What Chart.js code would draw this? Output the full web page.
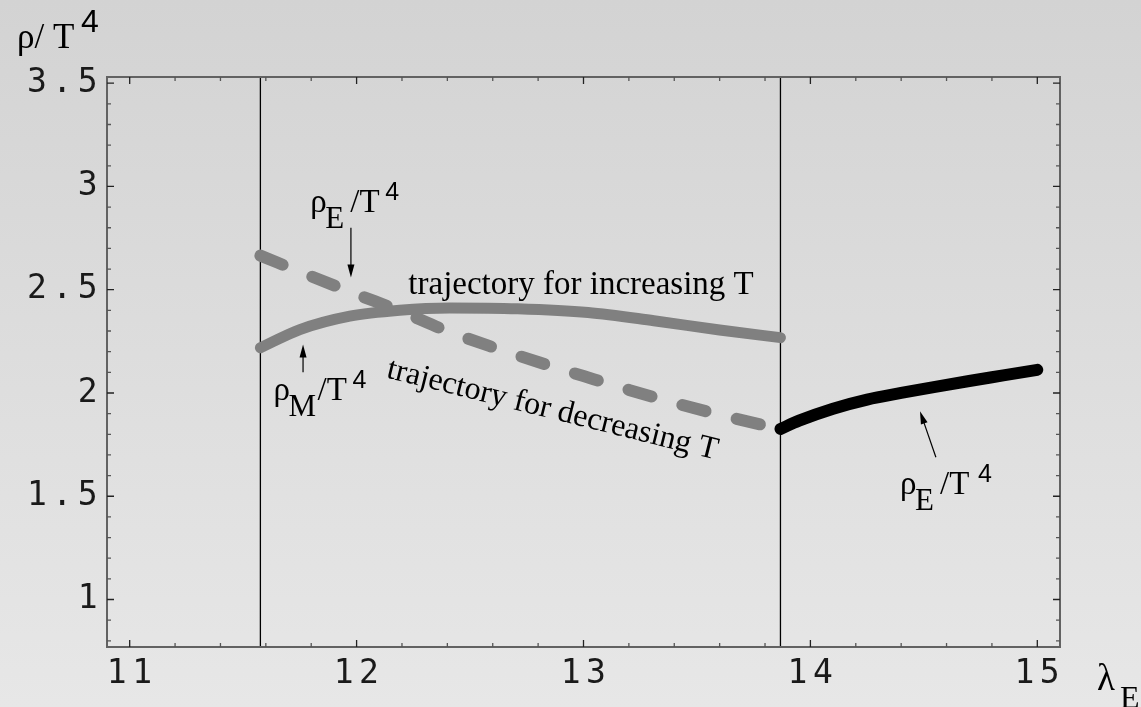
<!DOCTYPE html>
<html lang="en">
<head>
<meta charset="UTF-8" />
<title>rho/T^4 trajectories</title>
<script src="https://cdn.jsdelivr.net/npm/chart.js"></script>
<style>
  html, body { margin: 0; padding: 0; overflow: hidden; background: #dddddd; }
  #chart { display: block; background: linear-gradient(to bottom, #d3d3d3, #e7e7e7); }
</style>
</head>
<body>
<canvas id="chart" width="1141" height="707"></canvas>
<script>
// values: lambda_E on x, rho/T^4 on y
const risingX = [11.576, 11.75, 11.97, 12.19, 12.41, 12.71, 13.02, 13.31, 13.6, 13.868];
const risingY = [2.219, 2.307, 2.372, 2.401, 2.412, 2.408, 2.39, 2.35, 2.305, 2.268];
const fallingX = [11.576, 11.8, 12.0, 12.2, 12.4, 12.6, 12.8, 13.0, 13.2, 13.4, 13.6, 13.868];
const fallingY = [2.665, 2.565, 2.478, 2.393, 2.30, 2.222, 2.15, 2.082, 2.015, 1.952, 1.895, 1.825];
const upperX = [13.868, 13.95, 14.1, 14.25, 14.4, 14.55, 14.7, 14.85, 15.0];
const upperY = [1.826, 1.866, 1.924, 1.968, 2.0, 2.03, 2.058, 2.085, 2.112];
const transitionX = [11.576, 13.868];
const xTicks = [11, 12, 13, 14, 15];
const yTicks = [1, 1.5, 2, 2.5, 3, 3.5];
const xRange = [10.9, 15.1];
const yRange = [0.77, 3.53];

const pts = (xs, ys) => xs.map((x, i) => ({ x: x, y: ys[i] }));
const SERIF = '"Liberation Serif", "Times New Roman", serif';
const SANS = '"Liberation Sans", Arial, sans-serif';
const tickFont = { family: '"DejaVu Sans Mono", monospace', size: 33 };

function arrow(ctx, x1, y1, x2, y2) {
  const a = Math.atan2(y2 - y1, x2 - x1);
  ctx.beginPath();
  ctx.moveTo(x1, y1);
  ctx.lineTo(x2 - 10 * Math.cos(a), y2 - 10 * Math.sin(a));
  ctx.stroke();
  ctx.beginPath();
  ctx.moveTo(x2, y2);
  ctx.lineTo(x2 - 13 * Math.cos(a) + 3.5 * Math.sin(a), y2 - 13 * Math.sin(a) - 3.5 * Math.cos(a));
  ctx.lineTo(x2 - 13 * Math.cos(a) - 3.5 * Math.sin(a), y2 - 13 * Math.sin(a) + 3.5 * Math.cos(a));
  ctx.closePath();
  ctx.fill();
}

// rho_sub / T ^4 label, (x, y) is the baseline start of rho
function rhoLabel(ctx, x, y, sub, subDx, supDx) {
  ctx.font = '33px ' + SERIF;
  ctx.fillText('\u03C1', x, y);
  ctx.font = '31px ' + SERIF;
  ctx.fillText(sub, x + 15, y + 16);
  ctx.font = '33px ' + SERIF;
  ctx.fillText('/T', x + subDx, y);
  ctx.font = '25px ' + SANS;
  ctx.fillText('4', x + supDx, y - 12);
}

const frame = {
  id: 'frame',
  beforeDraw(c) { c.ctx.letterSpacing = '5.5px'; },
  beforeDatasetsDraw(c) { c.ctx.letterSpacing = '0px'; },
  afterDraw(c) {
    const ctx = c.ctx, a = c.chartArea, xs = c.scales.x, ys = c.scales.y;
    const X = v => xs.getPixelForValue(v), Y = v => ys.getPixelForValue(v);
    ctx.save();
    ctx.letterSpacing = '0px';
    // frame
    ctx.strokeStyle = '#626262';
    ctx.lineWidth = 2;
    ctx.strokeRect(a.left, a.top, a.right - a.left, a.bottom - a.top);
    // inward ticks on all four sides
    ctx.lineWidth = 1.3;
    for (let i = Math.ceil(xRange[0] / 0.2); i <= Math.floor(xRange[1] / 0.2); i++) {
      const v = i * 0.2, major = Math.abs(v - Math.round(v)) < 1e-6;
      const len = major ? 7 : 4, px = X(v);
      ctx.strokeStyle = major ? '#222' : '#555';
      ctx.beginPath();
      ctx.moveTo(px, a.bottom); ctx.lineTo(px, a.bottom - len);
      ctx.moveTo(px, a.top); ctx.lineTo(px, a.top + len);
      ctx.stroke();
    }
    for (let i = Math.ceil(yRange[0] / 0.1); i <= Math.floor(yRange[1] / 0.1); i++) {
      const v = i * 0.1, major = Math.abs(v * 2 - Math.round(v * 2)) < 1e-6;
      const len = major ? 7 : 4, py = Y(v);
      ctx.strokeStyle = major ? '#222' : '#555';
      ctx.beginPath();
      ctx.moveTo(a.left, py); ctx.lineTo(a.left + len, py);
      ctx.moveTo(a.right, py); ctx.lineTo(a.right - len, py);
      ctx.stroke();
    }

    ctx.fillStyle = '#000';
    ctx.strokeStyle = '#000';
    ctx.lineWidth = 1.2;
    ctx.textBaseline = 'alphabetic';
    ctx.textAlign = 'left';

    // axis titles
    ctx.font = '35px ' + SERIF;
    ctx.fillText('\u03C1/ T', 17, 48);
    ctx.font = '32px ' + SANS;
    ctx.fillText('4', 81, 32);
    ctx.font = '37px ' + SERIF;
    ctx.fillText('\u03BB', 1097, 690);
    ctx.font = '32px ' + SERIF;
    ctx.fillText('E', 1120, 708);

    // labels and arrows
    rhoLabel(ctx, X(11.796), Y(2.878), 'E', 40, 75);
    arrow(ctx, X(11.975), Y(2.800), X(11.975), Y(2.559));
    rhoLabel(ctx, X(11.634), Y(1.964), 'M', 44, 79);
    arrow(ctx, X(11.764), Y(2.100), X(11.764), Y(2.235));
    rhoLabel(ctx, X(14.395), Y(1.511), 'E', 40, 78);
    arrow(ctx, X(14.553), Y(1.689), X(14.483), Y(1.912));

    ctx.font = '33px ' + SERIF;
    ctx.fillText('trajectory for increasing T', X(12.228), Y(2.477));
    ctx.font = '32px ' + SERIF;
    ctx.translate(X(12.127), Y(2.076));
    ctx.rotate(14 * Math.PI / 180);
    ctx.fillText('trajectory for decreasing T', 0, 0);
    ctx.restore();
  }
};

const vline = x => [{ x: x, y: yRange[0] }, { x: x, y: yRange[1] }];

new Chart(document.getElementById('chart').getContext('2d'), {
  type: 'scatter',
  data: {
    datasets: [
      { data: pts(upperX, upperY), borderColor: '#000', borderWidth: 12 },
      { data: pts(risingX, risingY), borderColor: '#808080', borderWidth: 11 },
      { data: pts(fallingX, fallingY), borderColor: '#808080', borderWidth: 12, borderDash: [24, 32] },
      { data: vline(transitionX[0]), borderColor: '#000', borderWidth: 1.3, cubicInterpolationMode: 'default', tension: 0 },
      { data: vline(transitionX[1]), borderColor: '#000', borderWidth: 1.3, cubicInterpolationMode: 'default', tension: 0 }
    ].map(d => Object.assign({
      showLine: true, pointRadius: 0, borderCapStyle: 'round', borderJoinStyle: 'round',
      cubicInterpolationMode: 'monotone'
    }, d))
  },
  options: {
    responsive: false,
    animation: false,
    devicePixelRatio: 1,
    layout: { padding: { top: 77, right: 81, left: 0, bottom: 0 } },
    plugins: { legend: { display: false }, tooltip: { enabled: false } },
    scales: {
      x: {
        type: 'linear', min: xRange[0], max: xRange[1],
        afterFit: s => { s.height = 60; },
        afterBuildTicks: s => { s.ticks = xTicks.map(v => ({ value: v })); },
        grid: { display: false }, border: { display: false },
        ticks: { font: tickFont, color: '#1a1a1a', padding: 0, labelOffset: 2.5, maxRotation: 0, autoSkip: false, callback: v => String(v) }
      },
      y: {
        type: 'linear', min: yRange[0], max: yRange[1],
        afterFit: s => { s.width = 107; },
        afterBuildTicks: s => { s.ticks = yTicks.map(v => ({ value: v })); },
        grid: { display: false }, border: { display: false },
        ticks: { font: tickFont, color: '#1a1a1a', padding: -4, autoSkip: false, callback: v => String(v) }
      }
    }
  },
  plugins: [frame]
});
</script>
</body>
</html>
